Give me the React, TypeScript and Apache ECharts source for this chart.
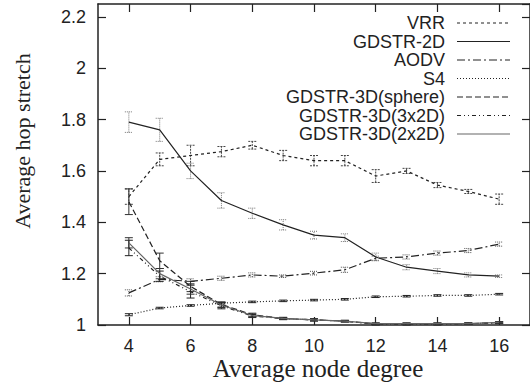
import React, { useEffect, useRef } from "react";
import * as echarts from "echarts";

const degrees = [4, 5, 6, 7, 8, 9, 10, 11, 12, 13, 14, 15, 16];
const xTicks = [4, 6, 8, 10, 12, 14, 16];

const seriesNames = [
  "VRR",
  "GDSTR-2D",
  "AODV",
  "S4",
  "GDSTR-3D(sphere)",
  "GDSTR-3D(3x2D)",
  "GDSTR-3D(2x2D)",
];

const vrr = [1.5, 1.645, 1.66, 1.675, 1.7, 1.66, 1.64, 1.64, 1.58, 1.6, 1.545, 1.52, 1.49];
const gdstr2d = [1.79, 1.76, 1.6, 1.485, 1.435, 1.39, 1.35, 1.34, 1.265, 1.225, 1.21, 1.195, 1.19];
const aodv = [1.125, 1.178, 1.17, 1.182, 1.195, 1.19, 1.202, 1.215, 1.26, 1.265, 1.28, 1.29, 1.315];
const s4 = [1.04, 1.066, 1.076, 1.085, 1.09, 1.094, 1.097, 1.1, 1.11, 1.112, 1.115, 1.115, 1.12];
const sphere = [1.48, 1.25, 1.15, 1.08, 1.04, 1.025, 1.02, 1.015, 1.005, 1.005, 1.005, 1.005, 1.01];
const grid3x2d = [1.3, 1.19, 1.13, 1.075, 1.035, 1.025, 1.02, 1.015, 1.003, 1.003, 1.003, 1.005, 1.008];
const grid2x2d = [1.32, 1.2, 1.14, 1.078, 1.037, 1.026, 1.02, 1.015, 1.005, 1.005, 1.005, 1.005, 1.01];

const vrrErr = [0.03, 0.025, 0.04, 0.02, 0.015, 0.02, 0.02, 0.02, 0.025, 0.01, 0.01, 0.008, 0.02];
const gdstr2dErr = [0.04, 0.045, 0.03, 0.03, 0.02, 0.02, 0.015, 0.015, 0.015, 0.01, 0.01, 0.008, 0.005];
const aodvErr = [0.012, 0.01, 0.01, 0.008, 0.008, 0.005, 0.007, 0.01, 0.008, 0.008, 0.008, 0.008, 0.008];
const s4Err = [0.004, 0.003, 0.003, 0.003, 0.003, 0.003, 0.003, 0.003, 0.003, 0.003, 0.003, 0.003, 0.003];
const sphereErr = [0.05, 0.03, 0.02, 0.01, 0.006, 0.004, 0.004, 0.003, 0.003, 0.003, 0.003, 0.003, 0.003];
const grid3x2dErr = [0.03, 0.02, 0.025, 0.012, 0.006, 0.004, 0.004, 0.003, 0.003, 0.003, 0.003, 0.003, 0.003];
const grid2x2dErr = [0.02, 0.02, 0.02, 0.01, 0.006, 0.004, 0.004, 0.003, 0.003, 0.003, 0.003, 0.003, 0.003];

const values = [vrr, gdstr2d, aodv, s4, sphere, grid3x2d, grid2x2d];
const errors = [vrrErr, gdstr2dErr, aodvErr, s4Err, sphereErr, grid3x2dErr, grid2x2dErr];

const lineDashes: (number[] | null)[] = [
  [3, 3],
  null,
  [8, 3, 2, 3],
  [1, 2],
  [6, 3],
  [4, 3, 1, 3, 1, 3],
  null,
];
const lineColors = ["#222", "#222", "#222", "#222", "#222", "#222", "#666"];
const errDashes: (number[] | null)[] = [[2, 1], [1, 1], [1, 1], null, null, null, null];
const errColors = ["#444", "#777", "#555", "#222", "#333", "#222", "#333"];

const SANS = "'Liberation Sans', Arial, sans-serif";
const SERIF = "'Liberation Serif', 'Times New Roman', serif";

export default function App() {
  const ref = useRef<HTMLDivElement>(null);
  useEffect(() => {
    if (!ref.current) return;
    const chart = echarts.init(ref.current, undefined, { renderer: "svg" });

    const lineSeries = seriesNames.map((name, i) => ({
      name,
      type: "line",
      xAxisIndex: 0,
      yAxisIndex: 0,
      symbol: "none",
      z: 3,
      lineStyle: {
        color: lineColors[i],
        width: 1.2,
        type: lineDashes[i] ? lineDashes[i] : "solid",
      },
      data: degrees.map((d, k) => [d, values[i][k]]),
    }));

    const errSeries = seriesNames.map((name, i) => ({
      name: name + " err",
      type: "custom",
      xAxisIndex: 0,
      yAxisIndex: 0,
      z: 2,
      data: degrees.map((d, k) => [d, values[i][k] - errors[i][k], values[i][k] + errors[i][k]]),
      renderItem: (params: any, api: any) => {
        const x = api.value(0);
        const lo = api.coord([x, api.value(1)]);
        const hi = api.coord([x, api.value(2)]);
        const w = 4;
        const style = {
          stroke: errColors[i],
          lineWidth: 1,
          lineDash: errDashes[i] || undefined,
          fill: null,
        };
        return {
          type: "group",
          children: [
            { type: "line", shape: { x1: lo[0], y1: lo[1], x2: hi[0], y2: hi[1] }, style },
            { type: "line", shape: { x1: lo[0] - w, y1: lo[1], x2: lo[0] + w, y2: lo[1] }, style },
            { type: "line", shape: { x1: hi[0] - w, y1: hi[1], x2: hi[0] + w, y2: hi[1] }, style },
          ],
        };
      },
    }));

    const legendTop = 23;
    const legendStep = 18.5;
    const legendGraphics: any[] = [];
    seriesNames.forEach((name, i) => {
      const y = legendTop + i * legendStep;
      legendGraphics.push({
        type: "text",
        x: 445,
        y,
        style: {
          text: name,
          textAlign: "right",
          textVerticalAlign: "middle",
          font: `18px ${SANS}`,
          fill: "#222",
        },
      });
      legendGraphics.push({
        type: "line",
        shape: { x1: 457, y1: y, x2: 510, y2: y },
        style: {
          stroke: lineColors[i],
          lineWidth: 1.2,
          lineDash: lineDashes[i] || undefined,
        },
      });
    });

    const axisLine = { show: true, lineStyle: { color: "#222", width: 1.5 } };
    const tick = { show: true, inside: true, length: 8, lineStyle: { color: "#222", width: 1.2 } };

    chart.setOption({
      animation: false,
      backgroundColor: "#fff",
      grid: { left: 98, top: 4, width: 434, height: 321, containLabel: false },
      xAxis: [
        {
          type: "value",
          position: "bottom",
          min: 3,
          max: 17,
          axisLine,
          axisTick: { ...tick, customValues: xTicks },
          axisLabel: {
            customValues: xTicks,
            color: "#222",
            fontFamily: SANS,
            fontSize: 18,
            margin: 12,
          },
          splitLine: { show: false },
        },
        {
          type: "value",
          position: "top",
          min: 3,
          max: 17,
          axisLine,
          axisTick: { ...tick, customValues: xTicks },
          axisLabel: { show: false },
          splitLine: { show: false },
        },
      ],
      yAxis: [
        {
          type: "value",
          position: "left",
          min: 1,
          max: 2.25,
          interval: 0.2,
          axisLine,
          axisTick: tick,
          axisLabel: {
            color: "#222",
            fontFamily: SANS,
            fontSize: 18,
            margin: 12,
            showMaxLabel: false,
          },
          splitLine: { show: false },
        },
        {
          type: "value",
          position: "right",
          min: 1,
          max: 2.25,
          interval: 0.2,
          axisLine,
          axisTick: tick,
          axisLabel: { show: false },
          splitLine: { show: false },
        },
      ],
      graphic: [
        ...legendGraphics,
        {
          type: "text",
          x: 318,
          y: 368,
          style: {
            text: "Average node degree",
            textAlign: "center",
            textVerticalAlign: "middle",
            font: `25px ${SERIF}`,
            fill: "#222",
          },
        },
        {
          type: "text",
          x: 22,
          y: 141,
          rotation: Math.PI / 2,
          style: {
            text: "Average hop stretch",
            textAlign: "center",
            textVerticalAlign: "middle",
            font: `22px ${SERIF}`,
            fill: "#222",
          },
        },
      ],
      series: [...errSeries, ...lineSeries],
    });
    return () => chart.dispose();
  }, []);
  return (
    <div
      ref={ref}
      style={{ position: "fixed", left: 0, top: 0, width: 530, height: 385 }}
    />
  );
}
